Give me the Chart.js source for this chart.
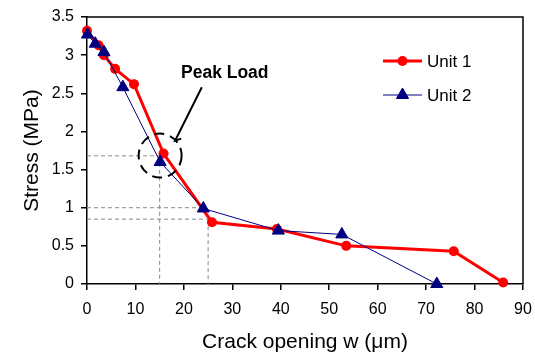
<!DOCTYPE html>
<html lang="en">
<head>
    <meta charset="UTF-8">
    <title>Stress vs crack opening</title>
    <style>
        body { margin: 0; padding: 0; background: #fff; }
        canvas { display: block; }
    </style>
    <script src="https://cdn.jsdelivr.net/npm/chart.js"></script>
</head>
<body>
    <canvas id="stressChart" width="535" height="358"></canvas>
    <script>
        // Unit 1 (red circles)
        const unit1W = [0, 2.4, 3.5, 5.8, 9.7, 15.8, 25.8, 39.2, 53.5, 75.7, 85.9];
        const unit1S = [3.32, 3.13, 3.0, 2.82, 2.62, 1.71, 0.81, 0.72, 0.50, 0.43, 0.02];
        // Unit 2 (blue triangles)
        const unit2W = [0.1, 1.7, 3.5, 7.4, 15.1, 24.0, 39.5, 52.6, 72.2];
        const unit2S = [3.27, 3.15, 3.04, 2.58, 1.60, 0.99, 0.70, 0.65, 0];

        const xTicks = [0, 10, 20, 30, 40, 50, 60, 70, 80, 90];
        const yTicks = [0, 0.5, 1, 1.5, 2, 2.5, 3, 3.5];

        // dashed guide lines [w1, s1, w2, s2]
        const guideLines = [
            [0, 1.68, 15, 1.68], [15, 1.68, 15, 0],
            [0, 1.0, 24, 1.0],
            [0, 0.85, 25, 0.85], [25, 0.85, 25, 0]
        ];
        // peak load marker
        const peakW = 15.1, peakS = 1.67;
        const arrowFrom = [23.7, 2.58], arrowTo = [18.2, 1.88];

        const FONT = "'Liberation Sans', Arial, sans-serif";

        const toPts = (ws, ss) => ws.map((w, i) => ({ x: w, y: ss[i] }));

        const extras = {
            id: 'extras',
            beforeDatasetsDraw(chart) {
                const { ctx } = chart;
                const x = chart.scales.x, y = chart.scales.y;
                ctx.save();
                ctx.strokeStyle = '#888';
                ctx.lineWidth = 1;
                ctx.setLineDash([4, 3]);
                guideLines.forEach(g => {
                    ctx.beginPath();
                    ctx.moveTo(x.getPixelForValue(g[0]), y.getPixelForValue(g[1]));
                    ctx.lineTo(x.getPixelForValue(g[2]), y.getPixelForValue(g[3]));
                    ctx.stroke();
                });
                ctx.restore();
            },
            afterDraw(chart) {
                const { ctx, chartArea: a } = chart;
                const x = chart.scales.x, y = chart.scales.y;
                ctx.save();
                // frame top + right
                ctx.strokeStyle = '#000';
                ctx.lineWidth = 1.5;
                ctx.beginPath();
                ctx.moveTo(a.left, a.top);
                ctx.lineTo(a.right, a.top);
                ctx.lineTo(a.right, a.bottom);
                ctx.stroke();

                // dashed ellipse around peak
                ctx.lineWidth = 2;
                ctx.setLineDash([10, 6]);
                ctx.beginPath();
                ctx.ellipse(x.getPixelForValue(peakW), y.getPixelForValue(peakS) - 1, 21.5, 22, 0, 0, Math.PI * 2);
                ctx.stroke();
                ctx.setLineDash([]);

                // arrow
                const ax1 = x.getPixelForValue(arrowFrom[0]), ay1 = y.getPixelForValue(arrowFrom[1]);
                const ax2 = x.getPixelForValue(arrowTo[0]), ay2 = y.getPixelForValue(arrowTo[1]);
                ctx.lineWidth = 2;
                ctx.beginPath();
                ctx.moveTo(ax1, ay1);
                ctx.lineTo(ax2, ay2);
                ctx.lineTo(ax2 + 6, ay2 - 2);
                ctx.stroke();

                ctx.fillStyle = '#000';
                ctx.font = 'bold 17.5px ' + FONT;
                ctx.textBaseline = 'middle';
                ctx.fillText('Peak Load', 181, 73);

                // legend
                const items = [
                    { label: 'Unit 1', color: '#ff0000', width: 3, style: 'circle', y: 61 },
                    { label: 'Unit 2', color: '#000080', width: 1, style: 'triangle', y: 95 }
                ];
                ctx.font = '17px ' + FONT;
                items.forEach(it => {
                    ctx.strokeStyle = it.color;
                    ctx.fillStyle = it.color;
                    ctx.lineWidth = it.width;
                    ctx.beginPath();
                    ctx.moveTo(383, it.y);
                    ctx.lineTo(422, it.y);
                    ctx.stroke();
                    if (it.style === 'circle') {
                        ctx.beginPath();
                        ctx.arc(402.5, it.y, 5, 0, Math.PI * 2);
                        ctx.fill();
                    } else {
                        Chart.helpers.drawPoint(ctx, { pointStyle: 'triangle', radius: 7, borderWidth: 1 }, 402.5, it.y);
                        ctx.fill();
                    }
                    ctx.fillStyle = '#000';
                    ctx.fillText(it.label, 427, it.y + 1);
                });
                ctx.restore();
            }
        };

        new Chart(document.getElementById('stressChart'), {
            type: 'line',
            data: {
                datasets: [
                    {
                        label: 'Unit 1', data: toPts(unit1W, unit1S), order: 2,
                        borderColor: '#ff0000', backgroundColor: '#ff0000', borderWidth: 3,
                        pointStyle: 'circle', pointRadius: 5, pointBorderWidth: 0,
                        clip: false, tension: 0
                    },
                    {
                        label: 'Unit 2', data: toPts(unit2W, unit2S), order: 1,
                        borderColor: '#000080', backgroundColor: '#000080', borderWidth: 1,
                        pointStyle: 'triangle', pointRadius: 7, pointBorderWidth: 1,
                        clip: false, tension: 0
                    }
                ]
            },
            options: {
                responsive: false,
                animation: false,
                devicePixelRatio: 1,
                layout: { padding: { top: 17, right: 12, left: 0, bottom: 0 } },
                plugins: { legend: { display: false }, tooltip: { enabled: false } },
                scales: {
                    x: {
                        type: 'linear', min: 0, max: 90,
                        afterFit: s => { s.height = 74; s.paddingLeft = 0; s.paddingRight = 0; },
                        afterBuildTicks: s => { s.ticks = xTicks.map(v => ({ value: v })); },
                        ticks: { color: '#000', padding: 10, font: { family: FONT, size: 16 } },
                        grid: { drawOnChartArea: false, drawTicks: true, tickLength: 6, color: '#000', lineWidth: 1.5 },
                        border: { color: '#000', width: 1.5 },
                        title: { display: true, text: 'Crack opening w (μm)', color: '#000',
                                 font: { family: FONT, size: 21 }, padding: { top: 0, bottom: 3 } }
                    },
                    y: {
                        type: 'linear', min: 0, max: 3.5,
                        afterFit: s => { s.width = 87; s.paddingTop = 0; s.paddingBottom = 0; },
                        afterBuildTicks: s => { s.ticks = yTicks.map(v => ({ value: v })); },
                        ticks: { color: '#000', padding: 7, font: { family: FONT, size: 16 },
                                 callback: v => String(v) },
                        grid: { drawOnChartArea: false, drawTicks: true, tickLength: 6, color: '#000', lineWidth: 1.5 },
                        border: { color: '#000', width: 1.5 },
                        title: { display: true, text: 'Stress (MPa)', color: '#000',
                                 font: { family: FONT, size: 21 }, padding: { top: 20, bottom: 0 } }
                    }
                }
            },
            plugins: [extras]
        });
    </script>
</body>
</html>
